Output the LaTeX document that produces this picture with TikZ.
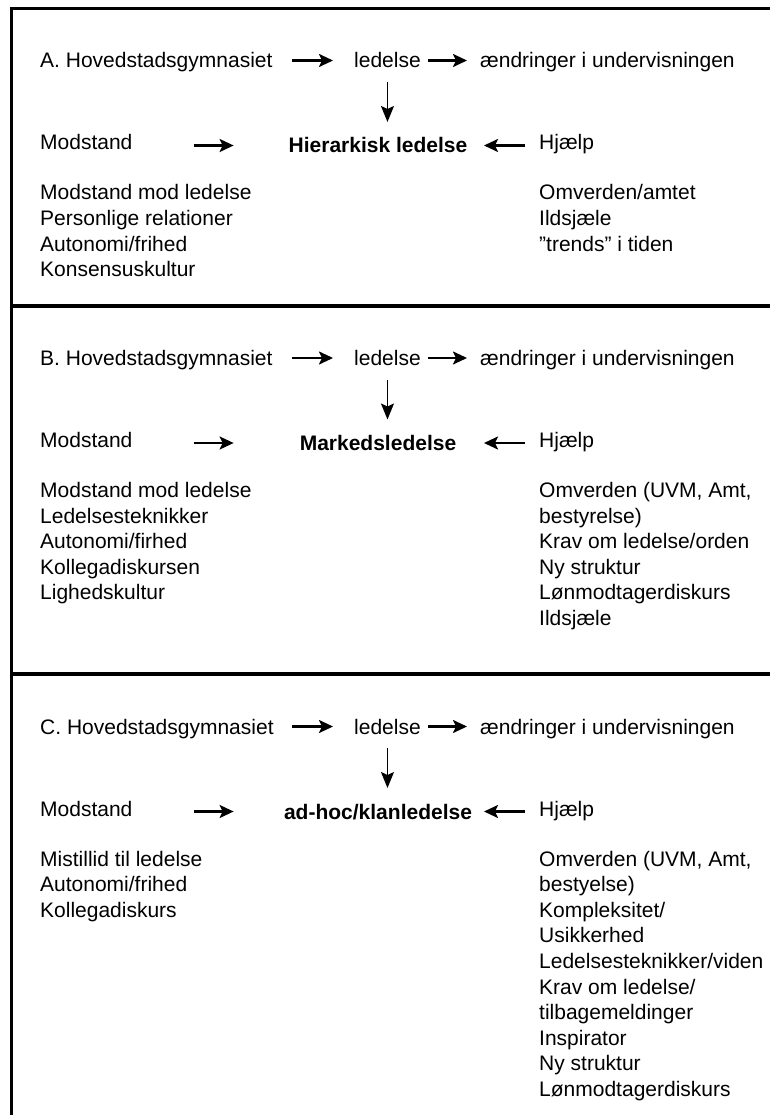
\documentclass[tikz,border=0pt]{standalone}
\usepackage{fontspec}
\setmainfont{Liberation Sans}
\usetikzlibrary{arrows.meta}

\tikzset{
  txt/.style={anchor=base west, inner sep=0pt, text height=15pt, text depth=0pt,
              font=\fontsize{21pt}{25.6pt}\selectfont},
  lead/.style={txt, anchor=base, font=\fontsize{21pt}{25.6pt}\selectfont\bfseries},
  harrow/.style={line width=2.2pt, -{Stealth[length=14pt,width=13pt,inset=3pt]}},
  varrow/.style={line width=1.5pt, -{Stealth[length=16pt,width=13pt,inset=3pt]}},
  frame/.style={line width=3.3pt, line join=miter}
}

% one panel: #1 vertical offset, #2 name prefix, #3 letter, #4 leadership type,
% #5 resistance items, #6 help items
\newcommand\drawpanel[6]{%
  \begin{scope}[yshift=-#1pt]
    \node[txt] (#2hov)  at (40,68)  {#3. Hovedstadsgymnasiet};
    \node[txt] (#2led)  at (354,68) {ledelse};
    \node[txt] (#2aend) at (480,68) {ændringer i undervisningen};
    \node[txt] (#2mod)  at (40,150) {Modstand};
    \node[txt] (#2hj)   at (539,150) {Hjælp};
    \node[lead] (#2ldr) at (378,153) {#4};
    \draw[harrow] ([xshift=-62pt]#2led.west) -- ([xshift=-21pt]#2led.west);
    \draw[harrow] ([xshift=-52pt]#2aend.west) -- ([xshift=-13pt]#2aend.west);
    \draw[varrow] ([yshift=-14pt]#2led.base) -- ([yshift=-54pt]#2led.base);
    \draw[harrow] ([xshift=61pt,yshift=-3pt]#2mod.east) -- ([xshift=101pt,yshift=-3pt]#2mod.east);
    \draw[harrow] ([xshift=-14pt,yshift=-3pt]#2hj.west) -- ([xshift=-55pt,yshift=-3pt]#2hj.west);
    \foreach \t [count=\i from 0] in {#5}
      \node[txt] (#2l\i) at (40,{200+25.6*\i}) {\t};
    \foreach \t [count=\i from 0] in {#6}
      \node[txt] (#2r\i) at (539,{200+25.6*\i}) {\t};
  \end{scope}}

\begin{document}
\begin{tikzpicture}[x=1pt, y=-1pt]
  \useasboundingbox (0,0) rectangle (770,1115);
  \clip (0,0) rectangle (770,1115);

  % outer frame and panel dividers
  \draw[frame] (11.5,1130) -- (11.5,8.5) -- (790,8.5);
  \draw[frame] (11.5,306) -- (790,306);
  \draw[frame] (11.5,674) -- (790,674);

  \drawpanel{0}{a}{A}{Hierarkisk ledelse}
    {Modstand mod ledelse, Personlige relationer, Autonomi/frihed, Konsensuskultur}
    {Omverden/amtet, Ildsjæle, ”trends” i tiden}

  \drawpanel{297.5}{b}{B}{Markedsledelse}
    {Modstand mod ledelse, Ledelsesteknikker, Autonomi/firhed, Kollegadiskursen, Lighedskultur}
    {{Omverden (UVM, Amt,}, bestyrelse), Krav om ledelse/orden, Ny struktur, Lønmodtagerdiskurs, Ildsjæle}

  \drawpanel{666}{c}{C}{ad-hoc/klanledelse}
    {Mistillid til ledelse, Autonomi/frihed, Kollegadiskurs}
    {{Omverden (UVM, Amt,}, bestyelse), Kompleksitet/, Usikkerhed, Ledelsesteknikker/viden,
     Krav om ledelse/, tilbagemeldinger, Inspirator, Ny struktur, Lønmodtagerdiskurs}
\end{tikzpicture}
\end{document}
